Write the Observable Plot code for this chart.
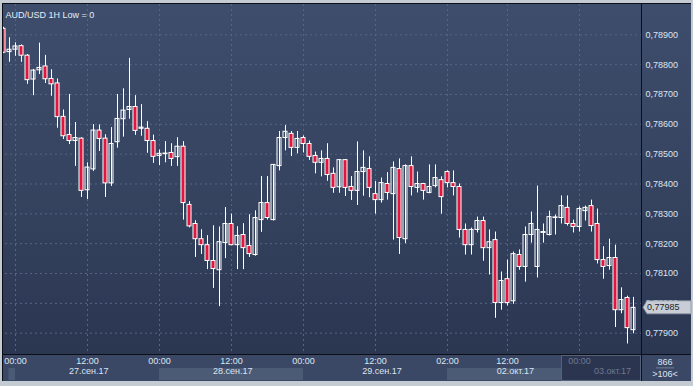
<!DOCTYPE html>
<html><head><meta charset="utf-8">
<script src="https://cdn.jsdelivr.net/npm/d3@7"></script>
<script src="https://cdn.jsdelivr.net/npm/@observablehq/plot@0.6"></script>
<style>
html,body{margin:0;padding:0;background:#c5cbd3;}
#chart{width:693px;height:386px;position:relative;overflow:hidden;}
svg{display:block;}
</style></head><body><div id="chart"></div>
<script>
const title = "AUD/USD 1H Low = 0";
const opens = [0.78920,0.78842,0.78850,0.78862,0.78830,0.78750,0.78781,0.78794,0.78752,0.78737,
0.78625,0.78564,0.78544,0.78552,0.78379,0.78449,0.78579,0.78552,0.78402,0.78540,
0.78617,0.78648,0.78658,0.78585,0.78585,0.78544,0.78494,0.78500,0.78504,0.78490,
0.78525,0.78330,0.78266,0.78215,0.78195,0.78142,0.78111,0.78202,0.78266,0.78195,
0.78229,0.78192,0.78162,0.78279,0.78336,0.78279,0.78460,0.78554,0.78568,0.78521,
0.78554,0.78534,0.78494,0.78471,0.78484,0.78434,0.78389,0.78480,0.78390,0.78377,
0.78440,0.78450,0.78366,0.78346,0.78400,0.78366,0.78450,0.78215,0.78460,0.78387,
0.78400,0.78370,0.78393,0.78413,0.78440,0.78403,0.78390,0.78246,0.78195,0.78246,
0.78276,0.78185,0.78212,0.78001,0.78081,0.78007,0.78162,0.78122,0.78229,0.78122,
0.78236,0.78229,0.78286,0.78286,0.78320,0.78266,0.78256,0.78309,0.78326,0.78266,
0.78145,0.78125,0.78152,0.77977,0.78018,0.77910];
const highs = [0.78925,0.78890,0.78873,0.78866,0.78834,0.78784,0.78872,0.78831,0.78783,0.78752,
0.78648,0.78700,0.78606,0.78555,0.78471,0.78599,0.78598,0.78565,0.78589,0.78700,
0.78719,0.78821,0.78696,0.78666,0.78609,0.78564,0.78514,0.78542,0.78535,0.78555,
0.78542,0.78341,0.78277,0.78247,0.78227,0.78260,0.78256,0.78321,0.78299,0.78257,
0.78267,0.78297,0.78310,0.78425,0.78425,0.78465,0.78576,0.78596,0.78576,0.78576,
0.78561,0.78544,0.78507,0.78511,0.78535,0.78454,0.78481,0.78482,0.78425,0.78541,
0.78511,0.78491,0.78408,0.78420,0.78438,0.78474,0.78484,0.78464,0.78491,0.78440,
0.78402,0.78464,0.78464,0.78424,0.78444,0.78444,0.78400,0.78266,0.78252,0.78289,
0.78289,0.78246,0.78239,0.78105,0.78145,0.78172,0.78179,0.78256,0.78306,0.78393,
0.78266,0.78309,0.78296,0.78360,0.78360,0.78279,0.78323,0.78326,0.78346,0.78316,
0.78190,0.78215,0.78195,0.78052,0.78024,0.78020];
const lows = [0.78837,0.78808,0.78828,0.78808,0.78734,0.78696,0.78767,0.78737,0.78694,0.78587,
0.78549,0.78532,0.78459,0.78355,0.78348,0.78442,0.78509,0.78355,0.78392,0.78520,
0.78557,0.78617,0.78563,0.78560,0.78503,0.78469,0.78462,0.78471,0.78459,0.78459,
0.78279,0.78253,0.78154,0.78164,0.78113,0.78050,0.77989,0.78150,0.78193,0.78113,
0.78113,0.78154,0.78158,0.78238,0.78279,0.78276,0.78444,0.78511,0.78492,0.78501,
0.78504,0.78479,0.78434,0.78424,0.78409,0.78369,0.78369,0.78358,0.78345,0.78328,
0.78359,0.78354,0.78299,0.78336,0.78346,0.78212,0.78164,0.78200,0.78360,0.78370,
0.78346,0.78367,0.78387,0.78299,0.78387,0.78360,0.78219,0.78162,0.78162,0.78236,
0.78141,0.78095,0.77950,0.77977,0.77991,0.77997,0.78111,0.78071,0.78202,0.78085,
0.78202,0.78226,0.78229,0.78266,0.78259,0.78236,0.78239,0.78276,0.78239,0.78132,
0.78081,0.78111,0.77919,0.77965,0.77864,0.77898];
const closes = [0.78840,0.78850,0.78861,0.78830,0.78748,0.78780,0.78789,0.78751,0.78734,0.78624,
0.78560,0.78544,0.78554,0.78377,0.78455,0.78579,0.78551,0.78402,0.78534,0.78618,
0.78646,0.78658,0.78578,0.78589,0.78544,0.78491,0.78501,0.78502,0.78484,0.78525,
0.78336,0.78258,0.78215,0.78195,0.78142,0.78115,0.78205,0.78266,0.78195,0.78226,
0.78185,0.78165,0.78286,0.78336,0.78286,0.78464,0.78554,0.78575,0.78521,0.78551,
0.78534,0.78491,0.78471,0.78484,0.78430,0.78387,0.78480,0.78387,0.78377,0.78440,
0.78454,0.78387,0.78346,0.78403,0.78370,0.78454,0.78219,0.78460,0.78390,0.78400,
0.78377,0.78390,0.78420,0.78356,0.78403,0.78390,0.78246,0.78195,0.78246,0.78276,
0.78185,0.78205,0.78001,0.78075,0.78001,0.78165,0.78122,0.78229,0.78266,0.78246,
0.78239,0.78289,0.78288,0.78326,0.78266,0.78256,0.78316,0.78320,0.78259,0.78145,
0.78122,0.78152,0.77977,0.78011,0.77917,0.77985];

const yTicks = [0.779,0.780,0.781,0.782,0.783,0.784,0.785,0.786,0.787,0.788,0.789];
const timeTickIdx = [2,14,26,38,50,62,74,84,96];
const timeTickLabels = ["00:00","12:00","00:00","12:00","00:00","12:00","02:00","12:00","00:00"];
const dateIdx = [14.2,38.2,63.1,85.3,101.5];
const dateLabels = ["27.сен.17","28.сен.17","29.сен.17","02.окт.17","03.окт.17"];
const dayBoxes = [[0.9,2],[26,50],[74,93]];   // alternate shaded day cells (bar index)
const dimFrom = 93;                              // start of the dimmed (current) cell
const cornerTop = "866";

const txt = "#dde4f0", dimTxt = "#6b7890", red = "#e0163e", gridC = "#566583";
const font = "'Liberation Sans', Arial, sans-serif";
const fmt = d => d.toFixed(5).replace(".", ",");

const candles = opens.map((o, i) => ({i, o, h: highs[i], l: lows[i], c: closes[i]}));
const ticks = timeTickIdx.map((i, k) => ({i, label: timeTickLabels[k], dim: i >= dimFrom}));
const dates = dateIdx.map((i, k) => ({i, label: dateLabels[k], dim: i >= dimFrom}));

const W = 693, H = 386;
const plot = Plot.plot({
  width: W, height: H,
  marginLeft: 0, marginRight: 52, marginTop: 4, marginBottom: 32,
  x: {type: "linear", domain: [-0.5, 106.3333], axis: null},
  y: {type: "linear", domain: [0.778286, 0.7900154], axis: null},
  style: {background: "transparent", color: txt, fontFamily: font, fontSize: "9px", overflow: "visible"},
  marks: [
    Plot.ruleY(yTicks, {stroke: gridC, strokeDasharray: "2,3"}),
    Plot.ruleX(timeTickIdx, {stroke: gridC, strokeDasharray: "2,3"}),
    Plot.ruleX(candles, {x: "i", y1: "l", y2: "h", stroke: "#ffffff", strokeWidth: 1}),
    Plot.rect(candles.filter(d => d.c < d.o), {x1: d => d.i - 1/3, x2: d => d.i + 1/3, y1: "o", y2: "c", fill: red, stroke: "#ffffff", strokeWidth: 1}),
    Plot.rect(candles.filter(d => d.c >= d.o), {x1: d => d.i - 1/3, x2: d => d.i + 1/3, y1: "o", y2: "c", fill: "#34415e", fillOpacity: 0, stroke: "#ffffff", strokeWidth: 1}),
    Plot.text(yTicks, {y: d => d, text: fmt, frameAnchor: "right", dx: 4, textAnchor: "start", fill: txt, fontSize: 9}),
    Plot.text(ticks.filter(d => !d.dim), {x: "i", text: "label", frameAnchor: "bottom", dy: 9, fill: txt, fontSize: 9}),
    Plot.text(ticks.filter(d => d.dim), {x: "i", text: "label", frameAnchor: "bottom", dy: 9, fill: dimTxt, fontSize: 9}),
    Plot.text(dates.filter(d => !d.dim), {x: "i", text: "label", frameAnchor: "bottom", dy: 19.5, fill: txt, fontSize: 9}),
    Plot.text(dates.filter(d => d.dim), {x: "i", text: "label", frameAnchor: "bottom", dy: 19.5, fill: dimTxt, fontSize: 9}),
    Plot.text([title], {frameAnchor: "top-left", dx: 5, dy: 6.8, textAnchor: "start", fill: "#e6ecf5", fontSize: 9})
  ]
});

const xs = plot.scale("x"), ys = plot.scale("y");
const X = v => xs.apply(v), Y = v => ys.apply(v);
const svg = d3.select(plot);

// underlay
const defs = svg.insert("defs", ":first-child");
const grad = defs.append("linearGradient").attr("id", "bgGrad").attr("x1", 0).attr("y1", 0).attr("x2", 0).attr("y2", 1);
grad.append("stop").attr("offset", "0%").attr("stop-color", "#3e4d6c");
grad.append("stop").attr("offset", "55%").attr("stop-color", "#35435f");
grad.append("stop").attr("offset", "100%").attr("stop-color", "#2b3651");
const under = svg.insert("g", "defs + *");
under.append("rect").attr("x", 0).attr("y", 0).attr("width", W).attr("height", H).attr("fill", "#c5cbd3");
under.append("rect").attr("x", 3).attr("y", 4).attr("width", 688).attr("height", 350).attr("fill", "url(#bgGrad)");
under.append("rect").attr("x", 3).attr("y", 355).attr("width", 688).attr("height", 26).attr("fill", "#3a4866");
dayBoxes.forEach(([a, b]) => under.append("rect").attr("x", X(a)).attr("y", 368).attr("width", X(b) - X(a)).attr("height", 12).attr("fill", "#4b5a75"));
under.append("rect").attr("x", X(dimFrom) + 0.5).attr("y", 355.5).attr("width", 641 - X(dimFrom) - 1).attr("height", 25).attr("fill", "#2b3550").attr("stroke", "#56627a");

// overlay borders
const over = svg.append("g").attr("text-anchor", "start");
over.append("rect").attr("x", 0).attr("y", 0).attr("width", W).attr("height", 3).attr("fill", "#c5cbd3");
over.append("rect").attr("x", 0).attr("y", 0).attr("width", 2).attr("height", H).attr("fill", "#c5cbd3");
over.append("rect").attr("x", 691).attr("y", 0).attr("width", 2).attr("height", H).attr("fill", "#c5cbd3");
over.append("rect").attr("x", 0).attr("y", 381).attr("width", W).attr("height", 5).attr("fill", "#c5cbd3");
over.append("rect").attr("x", 2).attr("y", 3).attr("width", 689).attr("height", 1).attr("fill", "#0c0f16");
over.append("rect").attr("x", 2).attr("y", 3).attr("width", 1).attr("height", 378).attr("fill", "#0c0f16");
over.append("rect").attr("x", 641).attr("y", 3).attr("width", 1).attr("height", 378).attr("fill", "#0c0f16");
over.append("rect").attr("x", 2).attr("y", 354).attr("width", 689).attr("height", 1).attr("fill", "#0c0f16");

// current price label
const last = closes[closes.length - 1];
const py = Y(last);
over.append("path")
  .attr("d", `M643,${py} L647,${py - 6.5} L691,${py - 6.5} L691,${py + 6.5} L647,${py + 6.5} Z`)
  .attr("fill", "#c9ced6").attr("stroke", "#8d96a4").attr("stroke-width", 0.8);
over.append("text").attr("x", 647).attr("y", py).attr("dy", "0.32em").attr("text-anchor", "start")
  .attr("font-family", font).attr("font-size", 9).attr("fill", "#1c1f26").text(fmt(last));

// corner info
over.append("text").attr("x", 665).attr("y", 362).attr("dy", "0.32em").attr("text-anchor", "middle")
  .attr("font-family", font).attr("font-size", 9).attr("fill", txt).text(cornerTop);
over.append("rect").attr("x", 656).attr("y", 367.5).attr("width", 18).attr("height", 0.8).attr("fill", "#7d8aa0");
over.append("text").attr("x", 665).attr("y", 374.5).attr("dy", "0.32em").attr("text-anchor", "middle")
  .attr("font-family", font).attr("font-size", 9).attr("fill", txt).text(">" + closes.length + "<");

document.getElementById("chart").append(plot);
</script>
</body></html>
